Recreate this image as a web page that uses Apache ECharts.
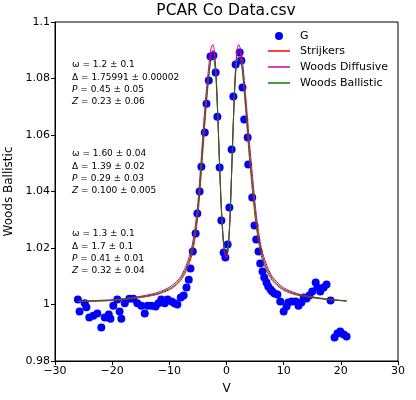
<!DOCTYPE html>
<html><head><meta charset="utf-8">
<script src="https://cdn.jsdelivr.net/npm/echarts@6/dist/echarts.min.js"></script>
<style>html,body{margin:0;padding:0;background:#fff}#c{width:416px;height:400px}</style>
</head><body><div id="c"></div>
<script>
const gX = [-26.0,-25.7,-24.8,-24.5,-24.0,-23.3,-22.6,-21.9,-21.3,-20.6,-20.3,-19.8,-19.1,-18.7,-18.4,-17.8,-17.0,-16.3,-15.6,-14.9,-14.3,-13.8,-13.1,-12.4,-11.9,-11.4,-10.8,-10.3,-9.6,-9.1,-8.6,-8.0,-7.5,-7.0,-6.6,-6.3,-5.9,-5.4,-5.1,-4.7,-4.4,-3.8,-3.5,-3.1,-2.8,-2.3,-1.9,-1.6,-1.2,-0.9,-0.5,-0.2,0.2,0.5,0.9,1.2,1.6,2.3,2.6,2.8,3.1,3.7,3.8,4.5,4.9,5.2,5.6,5.9,6.3,6.6,7.0,7.3,7.7,8.0,8.4,8.9,9.4,10.0,10.5,10.8,11.4,12.1,12.6,13.1,13.5,14.0,14.5,15.0,15.6,15.9,16.4,17.0,17.5,18.2,18.9,19.4,19.9,20.5,21.0];
const gY = [1.0018,0.9975,1.0004,0.9990,0.9954,0.9960,0.9968,0.9919,0.9954,0.9965,0.9950,0.9996,1.0018,0.9975,0.9950,1.0004,1.0020,1.0020,1.0004,0.9996,0.9968,0.9996,0.9996,0.9993,1.0004,1.0018,1.0004,1.0018,1.0011,1.0004,1.0000,1.0025,1.0032,1.0060,1.0088,1.0127,1.0188,1.0251,1.0322,1.0400,1.0488,1.0609,1.0711,1.0793,1.0878,1.0881,1.0821,1.0665,1.0485,1.0297,1.0184,1.0166,1.0212,1.0343,1.0549,1.0736,1.0850,1.0892,1.0864,1.0768,1.0655,1.0591,1.0496,1.0379,1.0280,1.0230,1.0188,1.0145,1.0117,1.0096,1.0078,1.0064,1.0053,1.0046,1.0039,1.0035,1.0011,0.9975,0.9993,1.0007,1.0011,1.0011,0.9996,1.0007,1.0025,1.0021,1.0032,1.0046,1.0078,1.0060,1.0046,1.0060,1.0071,1.0014,0.9883,0.9897,0.9904,0.9894,0.9887];

const fitX = [-26,-20,-16,-14,-12,-10,-9,-8,-7.2,-6.5,-6,-5.5,-5,-4.5,-4,-3.5,-3,-2.7,-2.4,-2.1,-1.8,-1.5,-1.2,-0.9,-0.6,-0.3,0,0.3,0.6,0.9,1.2,1.5,1.8,2.1,2.4,2.7,3,3.5,4,4.5,5,5.5,6,6.5,7.2,8,9,10,12,14,17,21];
const strijkers = [1.0010,1.0014,1.0022,1.0028,1.0036,1.0052,1.0065,1.0085,1.0112,1.0145,1.0180,1.0235,1.0315,1.0440,1.0580,1.0715,1.0825,1.0880,1.0900,1.0885,1.0805,1.0660,1.0490,1.0340,1.0235,1.0180,1.0165,1.0200,1.0300,1.0470,1.0650,1.0800,1.0880,1.0900,1.0890,1.0850,1.0780,1.0650,1.0520,1.0410,1.0310,1.0235,1.0180,1.0145,1.0112,1.0085,1.0065,1.0050,1.0035,1.0027,1.0019,1.0012];
const diffusive = [1.0012,1.0017,1.0026,1.0033,1.0043,1.0061,1.0076,1.0099,1.0131,1.0170,1.0210,1.0272,1.0362,1.0495,1.0640,1.0765,1.0862,1.0908,1.0920,1.0895,1.0805,1.0655,1.0485,1.0335,1.0232,1.0178,1.0165,1.0198,1.0298,1.0468,1.0650,1.0805,1.0895,1.0920,1.0908,1.0878,1.0820,1.0705,1.0578,1.0465,1.0358,1.0272,1.0210,1.0170,1.0131,1.0099,1.0076,1.0059,1.0041,1.0031,1.0021,1.0013];
const ballistic = [1.0011,1.0015,1.0024,1.0030,1.0039,1.0056,1.0070,1.0092,1.0121,1.0157,1.0195,1.0253,1.0338,1.0465,1.0605,1.0732,1.0828,1.0866,1.0875,1.0855,1.0785,1.0650,1.0490,1.0345,1.0245,1.0190,1.0178,1.0210,1.0305,1.0470,1.0645,1.0785,1.0860,1.0878,1.0870,1.0838,1.0787,1.0675,1.0545,1.0435,1.0333,1.0253,1.0195,1.0157,1.0121,1.0092,1.0070,1.0054,1.0038,1.0029,1.0020,1.0012];

const xTicks = [-30,-20,-10,0,10,20,30];
const yTicks = [0.98,1.0,1.02,1.04,1.06,1.08,1.1];
const legendNames = ['G','Strijkers','Woods Diffusive','Woods Ballistic'];
const titleText = 'PCAR Co Data.csv';

const annotations = [
  ['ω = 1.2 ± 0.1','Δ = 1.75991 ± 0.00002','P',' = 0.45 ± 0.05','Z',' = 0.23 ± 0.06'],
  ['ω = 1.60 ± 0.04','Δ = 1.39 ± 0.02','P',' = 0.29 ± 0.03','Z',' = 0.100 ± 0.005'],
  ['ω = 1.3 ± 0.1','Δ = 1.7 ± 0.1','P',' = 0.41 ± 0.01','Z',' = 0.32 ± 0.04']
];

const FONT = 'DejaVu Sans';
const colors = ['#0000ff','#ff0000','#bf00bf','#008000'];
const chart = echarts.init(document.getElementById('c'), null, {renderer:'canvas'});
const pair = (xs, ys) => xs.map((x,i)=>[x, ys[i]]);

const annTops = [59, 148, 228];
const graphics = [];
graphics.push({ type:'text', x:226, y:11, style:{ text:titleText, font:'15.5px "DejaVu Sans"', fill:'#000', align:'center', verticalAlign:'middle' } });
annotations.forEach((a, k) => {
  graphics.push({
    type:'text', left:72, top:annTops[k],
    style:{
      text: a[0] + '\n' + a[1] + '\n{i|' + a[2] + '}' + a[3] + '\n{i|' + a[4] + '}' + a[5],
      font: '9px "DejaVu Sans"', fill:'#000', lineHeight:12.3,
      rich:{ i:{ fontStyle:'italic', fontFamily:FONT, fontSize:9, lineHeight:12.3 } }
    }
  });
});
// legend drawn manually (icons + real text)
const legY = [36, 51, 67, 83];
legendNames.forEach((n, i) => {
  if (i === 0) {
    graphics.push({ type:'circle', shape:{ cx:279, cy:legY[i], r:4 }, style:{ fill:colors[0] } });
  } else {
    graphics.push({ type:'polyline', shape:{ points:[[268, legY[i]], [290, legY[i]]] }, style:{ stroke:colors[i], lineWidth:1.5, fill:null }, z:10 });
  }
  graphics.push({ type:'text', x:300, y:legY[i], style:{ text:n, font:'11px "DejaVu Sans"', fill:'#000', verticalAlign:'middle' } });
});

chart.setOption({
  animation:false,
  backgroundColor:'#fff',
  grid:{ left:55, right:18, top:22, bottom:39, show:true, borderColor:'#000', borderWidth:1, containLabel:false, outerBoundsMode:'none' },
  xAxis:{
    type:'value', min:-30, max:30, interval:10,
    name:'V', nameLocation:'middle', nameGap:22,
    nameTextStyle:{ fontFamily:FONT, fontSize:12, color:'#000' },
    axisLine:{ show:true, onZero:false, lineStyle:{ color:'#000', width:1 } },
    axisTick:{ show:true, inside:false, length:4, lineStyle:{ color:'#000' } },
    axisLabel:{ fontFamily:FONT, fontSize:11, color:'#000', margin:5,
      formatter: v => String(v).replace('-', '\u2212') },
    splitLine:{ show:false }
  },
  yAxis:{
    type:'value', min:0.98, max:1.1, interval:0.02,
    name:'Woods Ballistic', nameLocation:'middle', nameGap:38,
    nameTextStyle:{ fontFamily:FONT, fontSize:12, color:'#000' },
    axisLine:{ show:true, onZero:false, lineStyle:{ color:'#000', width:1 } },
    axisTick:{ show:true, inside:false, length:4, lineStyle:{ color:'#000' } },
    axisLabel:{ fontFamily:FONT, fontSize:11, color:'#000', margin:5,
      formatter: v => String(parseFloat(v.toFixed(2))) },
    splitLine:{ show:false }
  },
  series:[
    { name:legendNames[0], type:'scatter', data: pair(gX, gY), symbol:'circle', symbolSize:8,
      itemStyle:{ color:colors[0], opacity:1 }, z:2 },
    { name:legendNames[1], type:'line', data: pair(fitX, strijkers), symbol:'none', smooth:0.25,
      lineStyle:{ color:colors[1], width:1 }, itemStyle:{ color:colors[1] }, z:3 },
    { name:legendNames[2], type:'line', data: pair(fitX, diffusive), symbol:'none', smooth:0.25,
      lineStyle:{ color:colors[2], width:1 }, itemStyle:{ color:colors[2] }, z:4 },
    { name:legendNames[3], type:'line', data: pair(fitX, ballistic), symbol:'none', smooth:0.25,
      lineStyle:{ color:colors[3], width:1 }, itemStyle:{ color:colors[3] }, z:5 }
  ],
  graphic: graphics
});
</script></body></html>
